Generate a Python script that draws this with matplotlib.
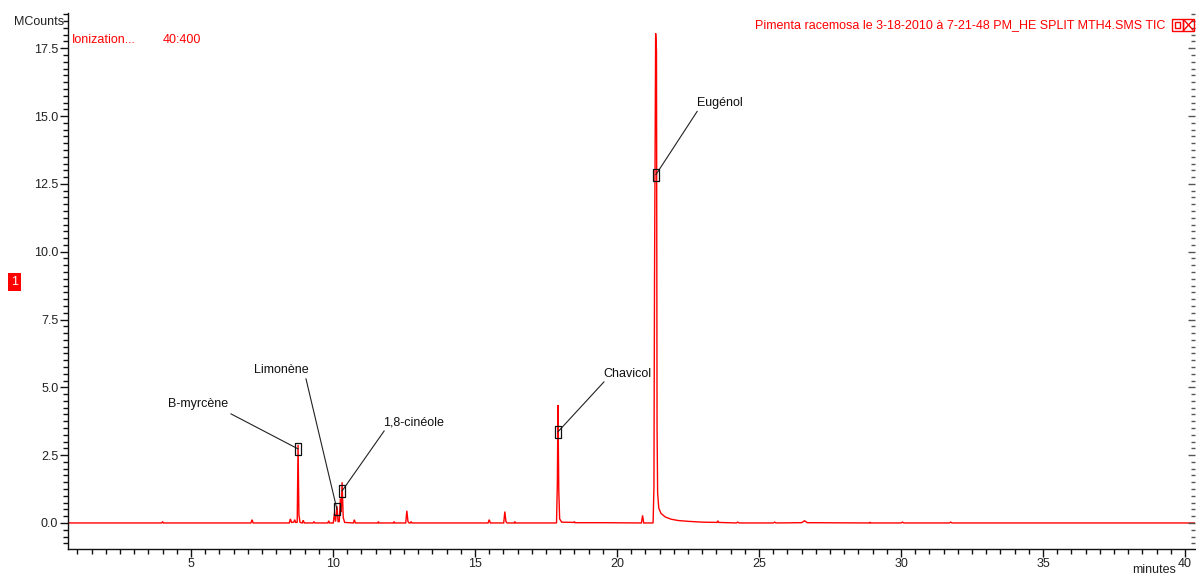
import matplotlib
matplotlib.use("Agg")
import matplotlib.pyplot as plt
from matplotlib.ticker import MultipleLocator
from matplotlib.patches import Rectangle
from matplotlib.lines import Line2D

plt.rcParams['font.family'] = ['Liberation Sans', 'DejaVu Sans']

# ---- chromatogram (retention time in minutes, intensity in MCounts) ----
rt_min = [0.67,
          3.97, 4.00, 4.03,
          7.11, 7.15, 7.19,
          8.46, 8.50, 8.54,
          8.62, 8.65, 8.69,
          8.74, 8.77, 8.80, 8.84,
          8.92, 8.95, 8.99,
          9.30, 9.33, 9.36,
          9.82, 9.85, 9.88,
          10.01, 10.05, 10.09,
          10.14, 10.18,
          10.22, 10.26, 10.29,
          10.32, 10.36, 10.41,
          10.72, 10.75, 10.79,
          11.58, 11.60, 11.62,
          12.13, 12.15, 12.17,
          12.56, 12.60, 12.64, 12.68,
          12.72, 12.75, 12.78,
          15.46, 15.50, 15.54,
          16.01, 16.05, 16.09, 16.13,
          16.38, 16.40, 16.42,
          17.87, 17.90, 17.92, 17.95, 17.98, 18.05,
          18.48, 18.50, 18.52,
          19.50,
          20.86, 20.90, 20.94,
          21.27, 21.30, 21.32, 21.36, 21.39, 21.41, 21.43, 21.47, 21.55, 21.70, 21.90, 22.15, 22.50, 23.00,
          23.52, 23.55, 23.58,
          24.20, 24.25, 24.30,
          25.50, 25.55, 25.60,
          26.50, 26.60, 26.70,
          28.88, 28.90, 28.92,
          30.00, 30.05, 30.10,
          31.70, 31.75, 31.80,
          40.35]
mcounts = [0.0,
           0.0, 0.05, 0.0,
           0.0, 0.12, 0.0,
           0.0, 0.15, 0.02,
           0.03, 0.12, 0.02,
           0.02, 2.88, 0.30, 0.02,
           0.0, 0.10, 0.0,
           0.0, 0.05, 0.0,
           0.0, 0.08, 0.0,
           0.0, 0.35, 0.05,
           0.62, 0.05,
           0.05, 0.90, 0.40,
           1.50, 0.20, 0.02,
           0.0, 0.12, 0.0,
           0.0, 0.05, 0.0,
           0.0, 0.05, 0.0,
           0.0, 0.45, 0.05, 0.0,
           0.0, 0.05, 0.0,
           0.0, 0.12, 0.0,
           0.0, 0.42, 0.05, 0.0,
           0.0, 0.05, 0.0,
           0.0, 1.50, 4.35, 1.20, 0.15, 0.03,
           0.02, 0.05, 0.01,
           0.01,
           0.0, 0.28, 0.0,
           0.0, 1.30, 8.90, 18.05, 17.40, 3.50, 1.10, 0.55, 0.35, 0.22, 0.14, 0.09, 0.06, 0.03,
           0.02, 0.08, 0.02,
           0.0, 0.03, 0.0,
           0.0, 0.03, 0.0,
           0.01, 0.08, 0.01,
           0.0, 0.03, 0.0,
           0.0, 0.03, 0.0,
           0.0, 0.03, 0.0,
           0.0]

# ---- labelled compounds ----
peak_names = ['B-myrcène', 'Limonène', '1,8-cinéole', 'Chavicol', 'Eugénol']
peak_rt = [8.77, 10.14, 10.32, 17.92, 21.37]
peak_mark = [2.73, 0.50, 1.18, 3.36, 12.84]

x_ticks = [5, 10, 15, 20, 25, 30, 35, 40]
y_ticks = [0.0, 2.5, 5.0, 7.5, 10.0, 12.5, 15.0, 17.5]

W, H = 1196, 576
fig = plt.figure(figsize=(W / 100, H / 100), dpi=100)
ax_l, ax_r, ax_b, ax_t = 68, 1195, 549, 13
ax = fig.add_axes([ax_l / W, 1 - ax_b / H, (ax_r - ax_l) / W, (ax_b - ax_t) / H])

RED = '#ff0000'
ax.plot(rt_min, mcounts, color=RED, lw=1.0, solid_joinstyle='miter')
ax.set_xlim(0.67, 40.35)
ax.set_ylim(-0.96, 18.8)

# annotation layout (text anchors in data coords)
label_pos = [(5.25, 4.39), (8.17, 5.65), (12.82, 3.69), (20.35, 5.50), (23.62, 15.50)]
line_start = [(6.41, 4.02), (9.05, 5.31), (11.80, 3.39), (19.54, 5.20), (22.82, 15.17)]
box = [(-0.6, -1), (0.6, -1), (0.6, 1), (-0.6, 1), (-0.6, -1)]
for name, rt, ym, (lx, ly), (sx, sy) in zip(peak_names, peak_rt, peak_mark, label_pos, line_start):
    ax.plot([sx, rt], [sy, ym], color='#222222', lw=0.8, zorder=3)
    ax.plot([rt], [ym], marker=box, markersize=8, mfc='none', mec='#111111', mew=0.9, zorder=4)
    ax.text(lx, ly, name, ha='center', va='center', fontsize=9, color='#111111')

# spines & ticks
for s in ['top', 'right']:
    ax.spines[s].set_visible(False)
for s in ['left', 'bottom']:
    ax.spines[s].set_color('#111111')
    ax.spines[s].set_linewidth(1.0)
ax.set_xticks(x_ticks)
ax.set_yticks(y_ticks)
ax.set_yticklabels([f'{v:.1f}' for v in y_ticks])
ax.xaxis.set_minor_locator(MultipleLocator(0.5))
ax.yaxis.set_minor_locator(MultipleLocator(0.25))
ax.tick_params(axis='both', which='major', direction='out', length=6, width=1.0,
               color='#111111', labelsize=9, labelcolor='#222222', pad=1)
ax.tick_params(axis='both', which='minor', direction='out', length=3.5, width=1.0, color='#111111')
ax.tick_params(axis='x', pad=0.5)

ax2 = ax.twinx()
ax2.set_ylim(ax.get_ylim())
for s in ['top', 'left', 'bottom', 'right']:
    ax2.spines[s].set_visible(False)
ax2.set_yticks(y_ticks)
ax2.yaxis.set_minor_locator(MultipleLocator(0.25))
ax2.tick_params(axis='y', which='major', direction='in', length=5, width=1.0, color='#555555',
                labelright=False)
ax2.tick_params(axis='y', which='minor', direction='in', length=3, width=1.0, color='#555555')

# texts
def fx(x):
    return x / W

def fy(y):
    return 1 - y / H

fig.text(fx(64), fy(22), 'MCounts', ha='right', va='center', fontsize=9, color='#222222')
fig.text(fx(72), fy(40), 'Ionization...', ha='left', va='center', fontsize=9, color=RED)
fig.text(fx(163), fy(40), '40:400', ha='left', va='center', fontsize=9, color=RED)
fig.text(fx(1165), fy(25), 'Pimenta racemosa le 3-18-2010 à 7-21-48 PM_HE SPLIT MTH4.SMS TIC',
         ha='right', va='center', fontsize=9, color=RED)
fig.text(fx(1176), fy(570), 'minutes', ha='right', va='center', fontsize=9, color='#222222')

# window icons
fig.patches.append(Rectangle((fx(1172), fy(31)), 11 / W, 12 / H, transform=fig.transFigure,
                             fill=False, edgecolor=RED, lw=1))
fig.patches.append(Rectangle((fx(1175), fy(28)), 5 / W, 6 / H, transform=fig.transFigure,
                             fill=False, edgecolor=RED, lw=1))
fig.patches.append(Rectangle((fx(1183), fy(31)), 11 / W, 12 / H, transform=fig.transFigure,
                             fill=False, edgecolor=RED, lw=1))
fig.lines.append(Line2D([fx(1184), fx(1193)], [fy(20), fy(30)], transform=fig.transFigure, color=RED, lw=1))
fig.lines.append(Line2D([fx(1184), fx(1193)], [fy(30), fy(20)], transform=fig.transFigure, color=RED, lw=1))

# trace number badge
fig.patches.append(Rectangle((fx(8), fy(291)), 13 / W, 18 / H, transform=fig.transFigure,
                             facecolor=RED, edgecolor='none'))
fig.text(fx(14.5), fy(282), '1', ha='center', va='center', fontsize=9, color='white')

fig.savefig('out.png', dpi=100)
